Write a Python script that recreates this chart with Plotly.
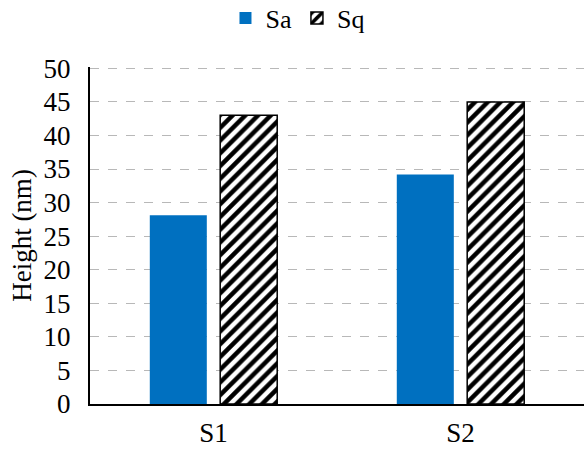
import plotly.graph_objects as go

categories = ["S1", "S2"]
sa_values = [28.1, 34.2]
sq_values = [43.0, 45.0]
y_ticks = [0, 5, 10, 15, 20, 25, 30, 35, 40, 45, 50]

fig = go.Figure()
fig.add_trace(go.Bar(
    x=categories, y=sa_values, name="Sa",
    marker=dict(color="#0070C0", line=dict(width=0)),
))
fig.add_trace(go.Bar(
    x=categories, y=sq_values, name="Sq",
    marker=dict(color="white", line=dict(color="black", width=1.5),
                pattern=dict(shape="/", fgcolor="black", bgcolor="white",
                             size=9, solidity=0.5, fillmode="replace")),
))

font_family = "Liberation Serif"
fig.update_layout(
    width=584, height=451,
    margin=dict(l=90, r=0, t=67, b=47),
    paper_bgcolor="white", plot_bgcolor="white",
    barmode="group", bargap=0.43, bargroupgap=0.19,
    font=dict(family=font_family, size=28, color="black"),
    showlegend=True,
    legend=dict(orientation="h", x=0.42, xanchor="center", y=0.96, yref="container",
                yanchor="middle", font=dict(size=26, family=font_family),
                itemwidth=30, tracegroupgap=0),
    xaxis=dict(showline=True, linecolor="black", linewidth=2, ticks="",
               ticklabelstandoff=4,
               tickfont=dict(size=27, family=font_family)),
    yaxis=dict(range=[0, 50.2], tickvals=y_ticks, showline=True, linecolor="black",
               linewidth=2, showgrid=True, gridcolor="#b8b8b8", griddash="dash",
               gridwidth=1, zeroline=False, ticks="", ticklabelstandoff=12,
               automargin=False,
               title=dict(text="Height (nm)", font=dict(size=27, family=font_family), standoff=4),
               tickfont=dict(size=27, family=font_family)),
)
fig.write_html("out.html")
